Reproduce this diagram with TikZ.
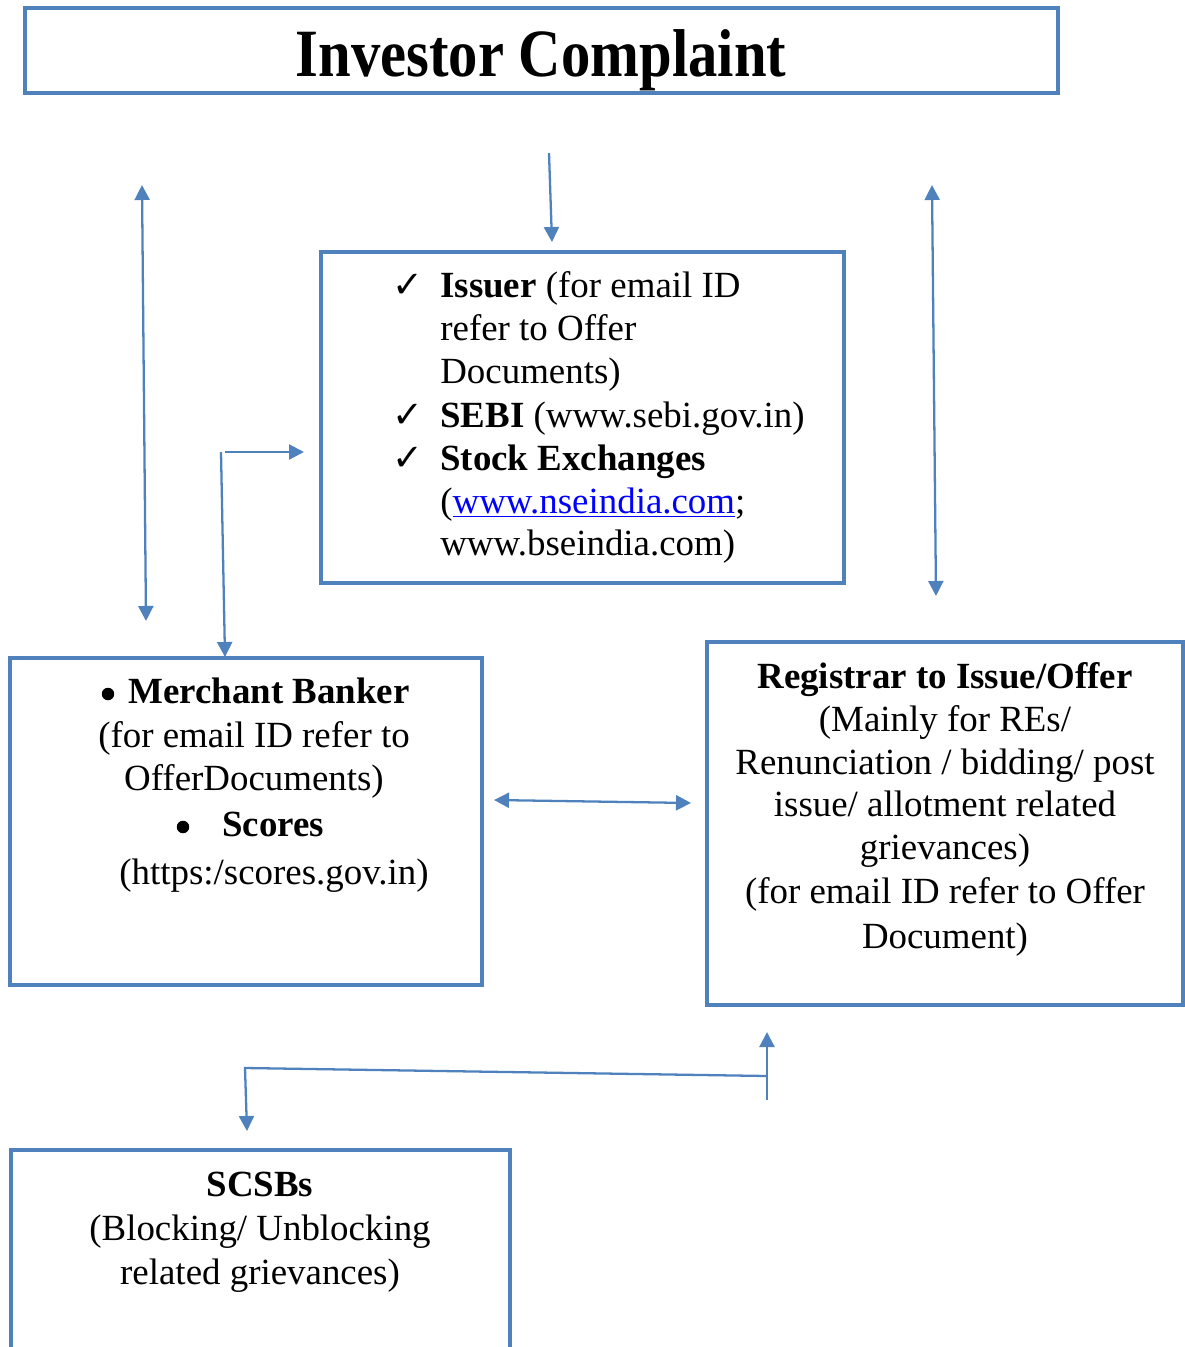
\documentclass[tikz,border=0pt]{standalone}
\usepackage{fontspec}
\setmainfont{Liberation Serif}
\newfontfamily\symfont{DejaVu Sans}
\usetikzlibrary{arrows.meta}
\definecolor{boxblue}{HTML}{4F81BD}
\definecolor{linkblue}{HTML}{0000FF}
\begin{document}
\begin{tikzpicture}[x=0.02cm,y=-0.02cm,
  frame/.style={draw=boxblue,line width=2.3pt,inner sep=0pt,outer sep=0pt},
  tip/.tip={Triangle[length=0.3cm,width=0.3cm]},
  conn/.style={draw=boxblue,line width=1.3pt,-tip},
  conntwo/.style={draw=boxblue,line width=1.3pt,tip-tip},
  txt/.style={inner sep=0pt,anchor=base,font=\fontsize{21}{25}\selectfont},
  txtl/.style={inner sep=0pt,anchor=base west,font=\fontsize{21}{25}\selectfont},
  ttl/.style={inner sep=0pt,anchor=base,xscale=0.867,font=\fontsize{38.5}{44}\selectfont\bfseries},
  dot/.style={circle,fill=black,inner sep=0pt,minimum size=0.25cm}
]
\useasboundingbox (0,0) rectangle (1185,1347);

% frames
\node[frame,minimum width=20.66cm,minimum height=1.7cm] (title) at (541.5,50.5) {};
\node[frame,minimum width=10.46cm,minimum height=6.62cm] (issuer) at (582.5,417.5) {};
\node[frame,minimum width=9.44cm,minimum height=6.54cm] (merchant) at (246,821.5) {};
\node[frame,minimum width=9.52cm,minimum height=7.26cm] (registrar) at (945,823.5) {};
\draw[boxblue,line width=2.3pt] (11,1360) -- (11,1150) -- (510,1150) -- (510,1360);

% title
\node[ttl] (titletext) at (541,76) {Investor Complaint};

% issuer text
\node[txtl] (c1) at (392,297) {\symfont ✓};
\node[txtl] (c2) at (392,427) {\symfont ✓};
\node[txtl] (c3) at (392,470) {\symfont ✓};
\node[txtl] (i1) at (440,297) {\textbf{Issuer} (for email ID};
\node[txtl] (i2) at (440,340) {refer to Offer};
\node[txtl] (i3) at (440,383) {Documents)};
\node[txtl] (i4) at (440,427) {\textbf{SEBI} (www.sebi.gov.in)};
\node[txtl] (i5) at (440,470) {\textbf{Stock Exchanges}};
\node[txtl] (i6) at (440,513) {({\color{linkblue}\underline{www.nseindia.com}};};
\node[txtl] (i7) at (440,555) {www.bseindia.com)};

% merchant text
\node[dot] (m1b) at (108,694) {};
\node[txtl] (m1) at (128,703) {\textbf{Merchant Banker}};
\node[txt] (m2) at (254,747) {(for email ID refer to};
\node[txt] (m3) at (254,790) {OfferDocuments)};
\node[dot] (m4b) at (183,827) {};
\node[txtl] (m4) at (222,836) {\textbf{Scores}};
\node[txt] (m5) at (274,884) {(https:/scores.gov.in)};

% registrar text
\node[txt] (r1) at (945,688) {\textbf{Registrar to Issue/Offer}};
\node[txt] (r2) at (945,731) {(Mainly for REs/};
\node[txt] (r3) at (945,774) {Renunciation / bidding/ post};
\node[txt] (r4) at (945,816) {issue/ allotment related};
\node[txt] (r5) at (945,859) {grievances)};
\node[txt] (r6) at (945,903) {(for email ID refer to Offer};
\node[txt] (r7) at (945,948) {Document)};

% scsb text
\node[txt] (s1) at (260,1196) {\textbf{SCSBs}};
\node[txt] (s2) at (260,1240) {(Blocking/ Unblocking};
\node[txt] (s3) at (260,1284) {related grievances)};

% connector end points
\coordinate (la) at (142,185);
\coordinate (lb) at (146,621);
\coordinate (ta) at (549,153);
\coordinate (tb) at (552,242);
\coordinate (ra) at (932,185);
\coordinate (rb) at (936,596);
\coordinate (ea) at (221,452);
\coordinate (eb) at (225,657);
\coordinate (ec) at (225,452);
\coordinate (ed) at (304,452);
\coordinate (ha) at (494,800);
\coordinate (hb) at (691,803);
\coordinate (ba) at (767,1100);
\coordinate (bb) at (767,1032);
\coordinate (bc) at (767,1076);
\coordinate (bd) at (245,1068);
\coordinate (be) at (247,1131);

\draw[conntwo] (la) -- (lb);
\draw[conn] (ta) -- (tb);
\draw[conntwo] (ra) -- (rb);
\draw[conn] (ea) -- (eb);
\draw[conn] (ec) -- (ed);
\draw[conntwo] (ha) -- (hb);
\draw[conn] (ba) -- (bb);
\draw[conn] (bc) -- (bd) -- (be);
\end{tikzpicture}
\end{document}
